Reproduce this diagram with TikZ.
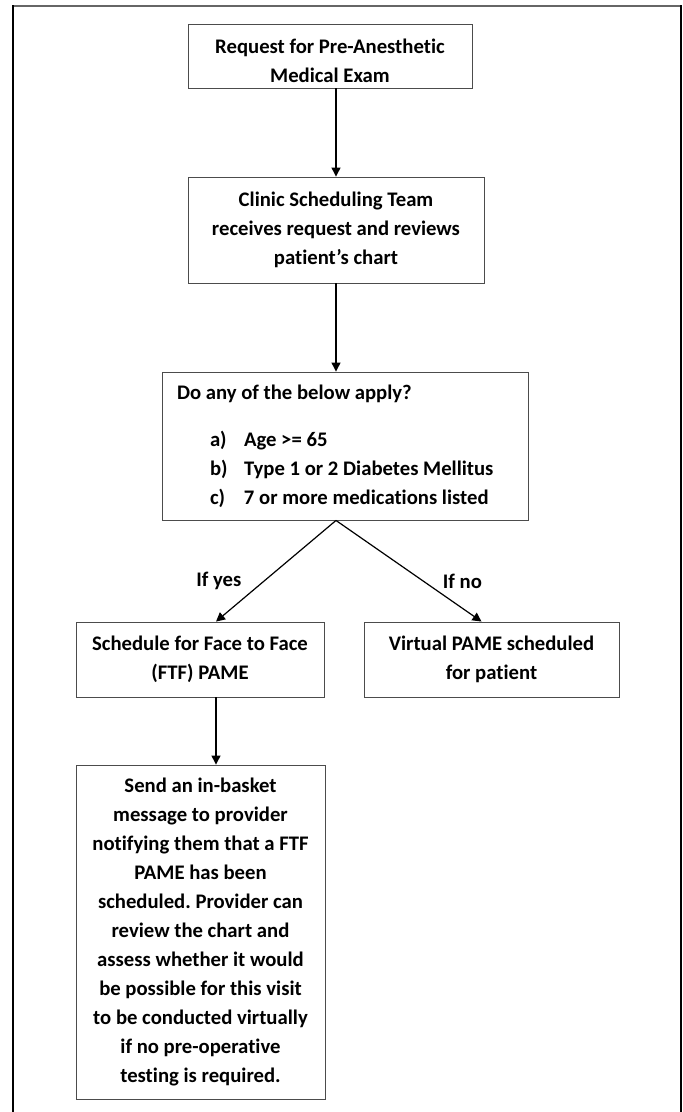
\documentclass[tikz,border=0pt]{standalone}
\usepackage{fontspec}
\setmainfont{Carlito}[Ligatures=NoCommon]
\frenchspacing
\usetikzlibrary{arrows.meta}
\begin{document}
\begin{tikzpicture}[x=1pt,y=-1pt,
box/.style={draw=black!70,line width=0.9pt,align=center,inner sep=0pt,font=\fontsize{20.7}{29}\selectfont\bfseries},
arr/.style={line width=1.2pt,-{Triangle[length=9pt,width=9pt]}},
lbl/.style={inner sep=0pt,font=\fontsize{20.7}{29}\selectfont\bfseries}
]
\useasboundingbox (0,0) rectangle (683,1112);
% frame
\draw[black!60,line width=2pt] (12,6) -- (682,6);
\draw[line width=1.4pt] (13,5) -- (13,1112);
\draw[line width=1.4pt] (681,5) -- (681,1112);
% boxes
\node[box,minimum width=284pt,minimum height=64pt] (req) at (330,56) {\rule{0pt}{24pt}Request for Pre-Anesthetic\\Medical Exam};
\node[box,minimum width=296pt,minimum height=106pt] (team) at (336,230) {Clinic Scheduling Team\\receives request and reviews\\patient’s chart};
\node[box,minimum width=366pt,minimum height=148pt] (check) at (345,446) {\makebox[336pt][l]{\begin{tabular}{@{}l@{}}Do any of the below apply?\\[18pt]
\hspace*{33pt}\makebox[34pt][l]{a)}Age >= 65\\
\hspace*{33pt}\makebox[34pt][l]{b)}Type 1 or 2 Diabetes Mellitus\\
\hspace*{33pt}\makebox[34pt][l]{c)}7 or more medications listed\end{tabular}}};
\node[box,minimum width=248pt,minimum height=75pt] (yes) at (200,659.5) {Schedule for Face to Face\\(FTF) PAME};
\node[box,minimum width=255pt,minimum height=75pt] (no) at (491.5,659.5) {Virtual PAME scheduled\\for patient};
\node[box,minimum width=249pt,minimum height=334pt] (msg) at (200.5,932) {Send an in-basket\\message to provider\\notifying them that a FTF\\PAME has been\\scheduled. Provider can\\review the chart and\\assess whether it would\\be possible for this visit\\to be conducted virtually\\if no pre-operative\\testing is required.};
% connectors
\coordinate (apex) at (team.south |- check.south);
\draw[arr] (req.south -| team.north) -- (team.north);
\draw[arr] (team.south) -- (team.south |- check.north);
\draw[arr] (apex) -- node[lbl,pos=0.6,left=22pt] {If yes} ([xshift=16pt]yes.north);
\draw[arr] (apex) -- node[lbl,pos=0.6,right=19pt] {If no} ([xshift=-10pt]no.north);
\draw[arr] ([xshift=16pt]yes.south) -- ([xshift=16pt]yes.south |- msg.north);
\end{tikzpicture}
\end{document}
